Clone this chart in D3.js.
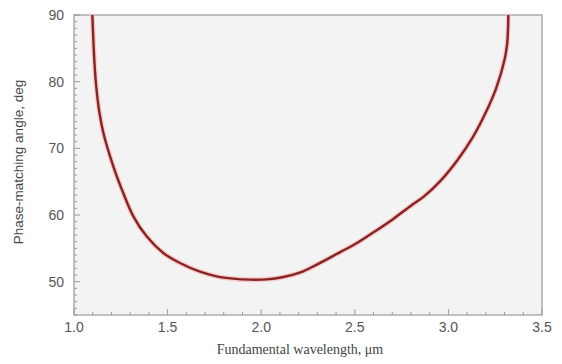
<!DOCTYPE html>
<html>
  <head>
    <meta charset="utf-8">
    <title></title>
    <script src="https://cdn.jsdelivr.net/npm/d3@7"></script>
    <style>
    body {margin:0; background:#fff;}
    </style>
  </head>
  <body>
    <svg id="svg1" width="562" height="364"></svg>
    <script>
    // wavelength (um) and phase-matching angle (deg)
    var wavelength = [1.098, 1.103, 1.109, 1.118, 1.135, 1.157, 1.21, 1.263, 1.317, 1.388, 1.477, 1.566, 1.673, 1.762, 1.85, 1.94, 2.03, 2.118, 2.21, 2.3, 2.42, 2.5, 2.6, 2.7, 2.8, 2.87, 2.96, 3.05, 3.133, 3.2, 3.255, 3.30, 3.313, 3.318, 3.32];
    var angle      = [90,    86.5,  83,    79.5,  75.5,  72.3,  67.3, 63.3,  59.8,  56.8,  54.3,  52.8,  51.5,  50.8,  50.45, 50.3, 50.35, 50.7,  51.4, 52.6, 54.4, 55.6, 57.4, 59.3, 61.4, 62.8, 65.2, 68.3, 71.8,  75.4, 79.0,  83.3, 85.5,  87.5,  90];
    var xTicks = [1.0, 1.5, 2.0, 2.5, 3.0, 3.5];
    var yTicks = [50, 60, 70, 80, 90];

    (function () {
      var svg = d3.select('#svg1');
      var pL = 74, pR = 542, pT = 15, pB = 315;

      var x = d3.scaleLinear().domain([1.0, 3.5]).range([pL, pR]);
      var y = d3.scaleLinear().domain([45, 90]).range([pB, pT]);

      // plot background
      svg.append('rect')
        .attr('x', pL).attr('y', pT)
        .attr('width', pR - pL).attr('height', pB - pT)
        .attr('fill', '#f3f3f3');

      // inward ticks
      var g = svg.append('g').attr('stroke', '#9a9a9a').attr('stroke-width', 1);
      d3.range(10, 35.5, 1).forEach(function (k) {
        var v = k / 10, len = (k % 5 === 0) ? 6 : 3;
        g.append('line')
          .attr('x1', x(v)).attr('x2', x(v))
          .attr('y1', pB).attr('y2', pB - len);
      });
      d3.range(45, 90.5, 1).forEach(function (v) {
        var len = (v % 10 === 0) ? 6 : 3;
        g.append('line')
          .attr('x1', pL).attr('x2', pL + len)
          .attr('y1', y(v)).attr('y2', y(v));
      });

      // frame
      svg.append('rect')
        .attr('x', pL).attr('y', pT)
        .attr('width', pR - pL).attr('height', pB - pT)
        .attr('fill', 'none').attr('stroke', '#999').attr('stroke-width', 1.2);

      // tick labels
      svg.append('g').selectAll('text').data(xTicks).enter().append('text')
        .attr('x', function (d) { return x(d); })
        .attr('y', pB + 17)
        .attr('text-anchor', 'middle')
        .attr('font-family', 'Liberation Sans, Arial, sans-serif')
        .attr('font-size', 14).attr('fill', '#555')
        .text(function (d) { return d.toFixed(1); });

      svg.append('g').selectAll('text').data(yTicks).enter().append('text')
        .attr('x', pL - 10)
        .attr('y', function (d) { return y(d) + 5; })
        .attr('text-anchor', 'end')
        .attr('font-family', 'Liberation Sans, Arial, sans-serif')
        .attr('font-size', 14).attr('fill', '#555')
        .text(function (d) { return d; });

      // axis titles
      svg.append('text')
        .attr('x', 300).attr('y', 354)
        .attr('text-anchor', 'middle')
        .attr('font-family', 'Liberation Serif, Times New Roman, serif')
        .attr('font-size', 14).attr('fill', '#444')
        .text('Fundamental wavelength, μm');

      svg.append('text')
        .attr('transform', 'translate(23,162) rotate(-90)')
        .attr('text-anchor', 'middle')
        .attr('font-family', 'Liberation Sans, Arial, sans-serif')
        .attr('font-size', 13.5).attr('fill', '#444')
        .text('Phase-matching angle, deg');

      // curve
      var pts = wavelength.map(function (w, i) { return [w, angle[i]]; });
      var lineGen = d3.line()
        .x(function (d) { return x(d[0]); })
        .y(function (d) { return y(d[1]); })
        .curve(d3.curveCatmullRom.alpha(0.5));

      svg.append('path')
        .attr('d', lineGen(pts))
        .attr('fill', 'none').attr('stroke', '#f6caca').attr('stroke-width', 5);
      svg.append('path')
        .attr('d', lineGen(pts))
        .attr('fill', 'none').attr('stroke', '#862424').attr('stroke-width', 2.4);
    })();
    </script>
  </body>
</html>
